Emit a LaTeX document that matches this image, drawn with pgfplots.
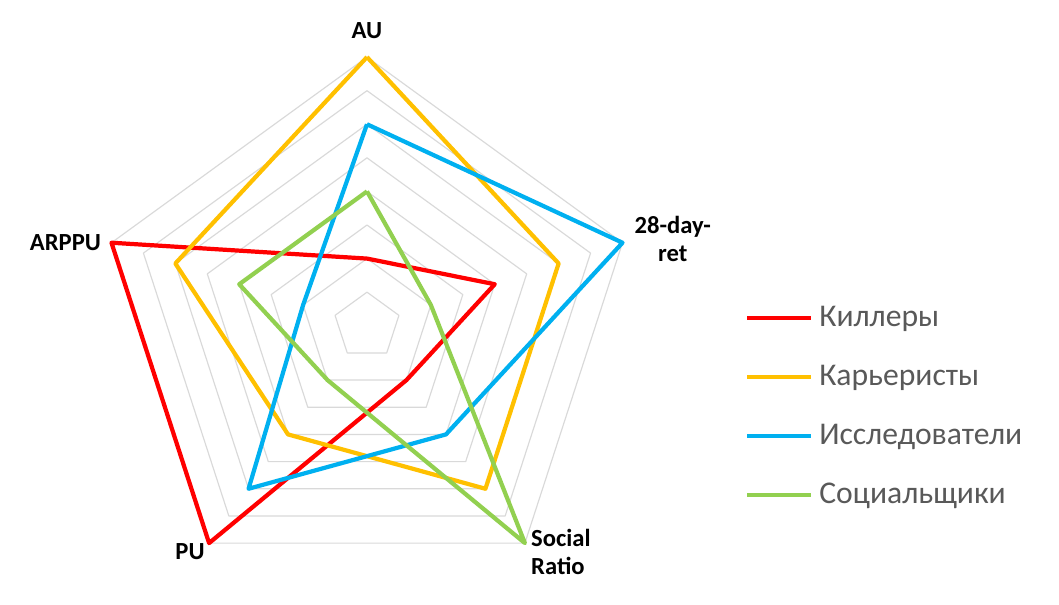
\documentclass[border=0pt]{standalone}
\usepackage{fontspec}
\setmainfont{Carlito}
\usepackage{pgfplots}
\pgfplotsset{compat=1.18}
\usepgfplotslibrary{polar}
\definecolor{cKill}{HTML}{FF0000}
\definecolor{cCar}{HTML}{FFC000}
\definecolor{cExp}{HTML}{00B0F0}
\definecolor{cSoc}{HTML}{92D050}
\definecolor{gridcol}{HTML}{D9D9D9}
\definecolor{legtext}{HTML}{595959}
\begin{document}
\begin{tikzpicture}
\path[use as bounding box] (-5.505,-4.175) rectangle (10.38,4.886);
\begin{polaraxis}[
  at={(0,0)}, anchor=center,
  width=8.06cm, height=8.06cm, scale only axis,
  hide axis, clip=false,
  ymin=0, ymax=8,
  every axis plot/.append style={line width=1.8pt, line join=round},
  legend cell align=left,
  legend style={draw=none, fill=none, at={(axis description cs:1.19,0.35)}, anchor=west,
    font=\fontsize{13.5}{15}\selectfont\color{legtext}, row sep=10pt,
    nodes={inner sep=2.5pt}},
  legend image code/.code={\draw[#1] (0cm,0cm) -- (0.96cm,0cm);},
]
\pgfplotsinvokeforeach{1,...,8}{
  \addplot[gridcol, line width=0.5pt, forget plot] coordinates {(90,#1)(18,#1)(-54,#1)(-126,#1)(162,#1)(90,#1)};
}
% order: AU, 28-day-ret, Social Ratio, PU, ARPPU
\addplot[cKill] coordinates {(90,2)(18,4)(-54,2)(-126,8)(162,8)(90,2)};
\addlegendentry{Киллеры}
\addplot[cCar] coordinates {(90,8)(18,6)(-54,6)(-126,4)(162,6)(90,8)};
\addlegendentry{Карьеристы}
\addplot[cExp] coordinates {(90,6)(18,8)(-54,4)(-126,6)(162,2)(90,6)};
\addlegendentry{Исследователи}
\addplot[cSoc] coordinates {(90,4)(18,2)(-54,8)(-126,2)(162,4)(90,4)};
\addlegendentry{Социальщики}
\tikzset{lab/.style={font=\fontsize{10.5}{12}\selectfont\bfseries, inner sep=0pt}}
\node[lab, anchor=center, yshift=11.5pt] at (axis cs:90,8) {AU};
\node[lab, anchor=east, xshift=-4.3pt] at (axis cs:162,8) {ARPPU};
\node[lab, anchor=west, align=center, xshift=5pt, yshift=1.7pt] at (axis cs:18,8) {28-day-\\ret};
\node[lab, anchor=east, xshift=-1.7pt, yshift=-3.8pt] at (axis cs:-126,8) {PU};
\node[lab, anchor=west, align=left, xshift=2.5pt, yshift=-3.8pt] at (axis cs:-54,8) {Social\\Ratio};
\end{polaraxis}
\end{tikzpicture}
\end{document}
